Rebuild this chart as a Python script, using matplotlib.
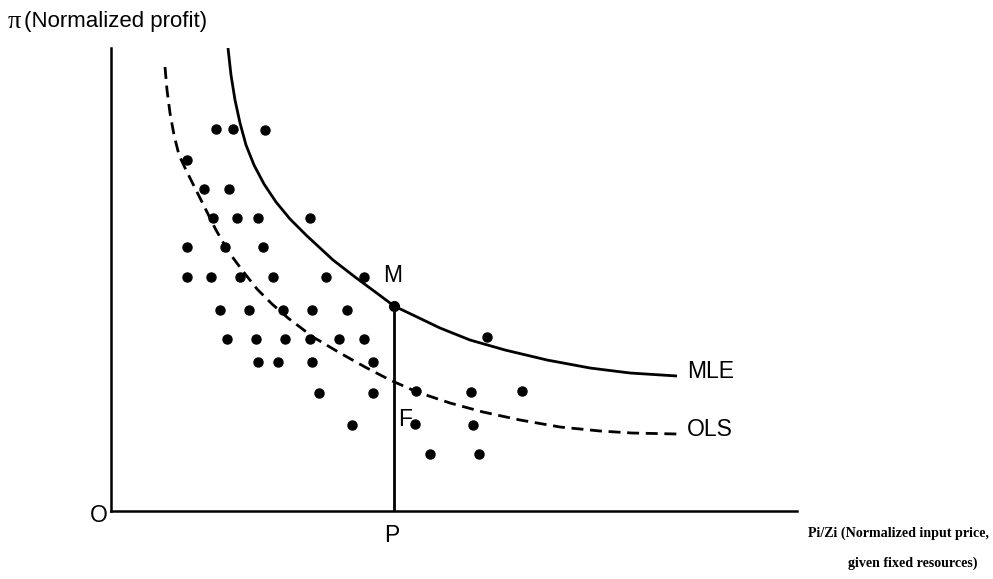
import numpy as np
import matplotlib
matplotlib.use('Agg')
import matplotlib.pyplot as plt

# Точки наблюдений (x - нормированная цена, y - нормированная прибыль)
dots_x = [105, 122, 154, 76, 93, 118, 102, 126, 147, 199, 76, 114, 152,
          76, 100, 129, 162, 215, 253, 109, 138, 172, 201, 236,
          116, 145, 174, 199, 228, 253, 147, 167, 201, 262,
          208, 262, 376, 305, 360, 411, 241, 304, 362, 319, 368]
dots_y = [382, 382, 381, 351, 322, 322, 293, 293, 293, 293, 264, 264, 264,
          234, 234, 234, 234, 234, 234, 201, 201, 201, 201, 201,
          172, 172, 172, 172, 172, 172, 149, 149, 149, 149,
          118, 118, 174, 120, 119, 120, 86, 87, 86, 57, 57]

# Граница MLE (сплошная)
mle_x = [117, 120, 124, 129, 135, 143, 153, 165, 179, 195, 222, 244, 267,
         283, 304, 329, 359, 394, 436, 479, 519, 566]
mle_y = [463, 436, 411, 388, 366, 346, 327, 309, 292, 276, 251, 234, 217,
         205, 195, 183, 171, 161, 151, 143, 138, 135]

# Кривая OLS (пунктир)
ols_x = [54, 56, 59, 63, 68, 75, 84, 94, 105, 117, 131, 146, 161, 177, 202,
         229, 254, 279, 306, 339, 372, 409, 449, 489, 521, 566]
ols_y = [444, 421, 398, 376, 356, 341, 323, 303, 281, 260, 241, 222, 207,
         193, 174, 158, 144, 131, 119, 108, 99, 91, 84, 80, 78, 77]

# Точка M на границе и её проекция P
m_x, m_y = 283, 205

sans = 'Liberation Sans'
serif = 'Liberation Serif'

fig = plt.figure(figsize=(9.93, 5.79), dpi=100)
ax = fig.add_axes([111 / 993, (579 - 511) / 579, 686 / 993, 463 / 579])
ax.set_xlim(0, 686)
ax.set_ylim(0, 463)

ax.plot(mle_x, mle_y, color='black', lw=2, solid_capstyle='butt')
ax.plot(ols_x, ols_y, color='black', lw=2, linestyle=(0, (4.3, 2.4)))
ax.plot(dots_x, dots_y, 'o', color='black', markersize=6.5, clip_on=False)
ax.plot([m_x, m_x], [0, m_y], color='black', lw=2)
ax.plot([m_x], [m_y], 'o', color='black', markersize=7)

# Оси без делений
for side in ['top', 'right']:
    ax.spines[side].set_visible(False)
for side in ['left', 'bottom']:
    ax.spines[side].set_linewidth(1.8)
ax.set_xticks([])
ax.set_yticks([])

# Подписи
ax.text(-97, 489, 'π', family=serif, fontsize=19, ha='center', va='center', clip_on=False)
ax.text(-87, 489, '(Normalized profit)', family=sans, fontsize=16, ha='left', va='center', clip_on=False)
ax.text(282, 236, 'M', family=sans, fontsize=16.5, ha='center', va='center')
ax.text(294, 91, 'F', family=sans, fontsize=16.5, ha='center', va='center')
ax.text(576, 140, 'MLE', family=sans, fontsize=16.5, ha='left', va='center')
ax.text(576, 81, 'OLS', family=sans, fontsize=16.5, ha='left', va='center')
ax.text(-12, -5, 'O', family=sans, fontsize=16.5, ha='center', va='center', clip_on=False)
ax.text(281, -24, 'P', family=sans, fontsize=16.5, ha='center', va='center', clip_on=False)
ax.text(697, -22, 'Pi/Zi (Normalized input price,', family=serif, fontsize=10.1,
        fontweight='bold', ha='left', va='center', clip_on=False)
ax.text(737, -52, 'given fixed resources)', family=serif, fontsize=10.1,
        fontweight='bold', ha='left', va='center', clip_on=False)

plt.savefig('out.png', dpi=100)
